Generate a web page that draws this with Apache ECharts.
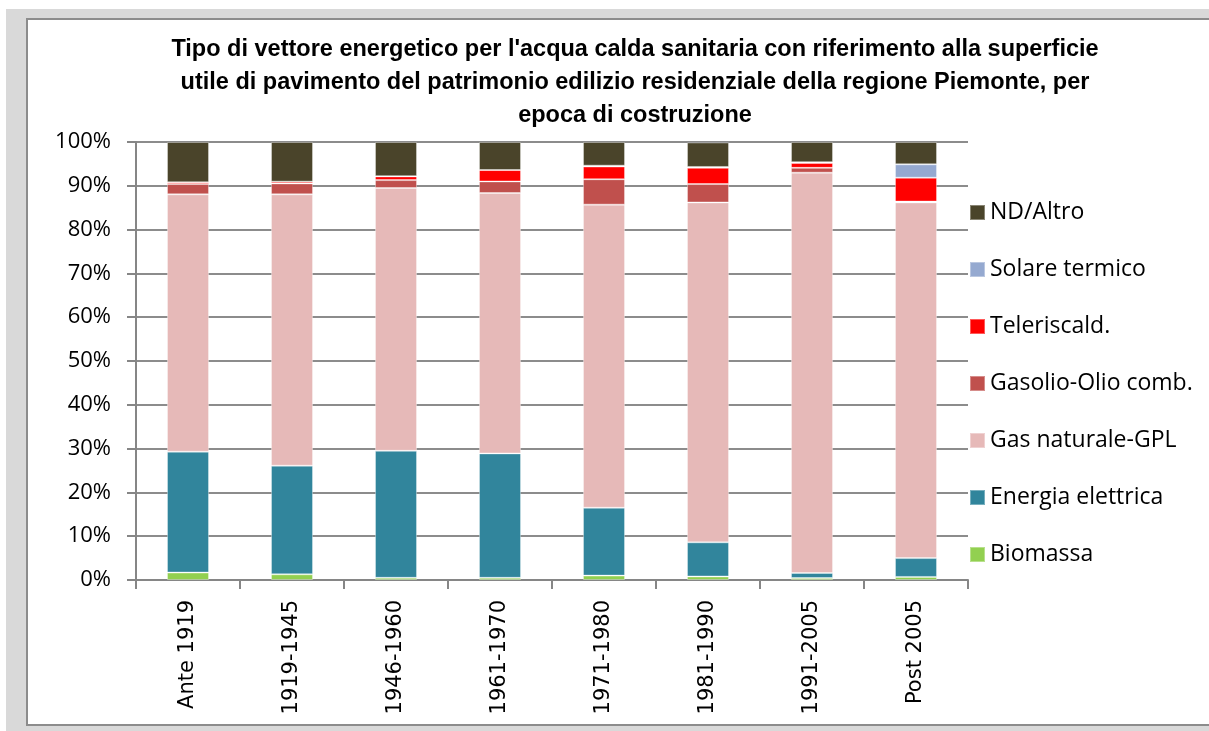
<!DOCTYPE html>
<html><head><meta charset="utf-8">
<script src="https://cdn.jsdelivr.net/npm/echarts@6/dist/echarts.min.js"></script>
<style>html,body{margin:0;padding:0;background:#fff}#c{width:1209px;height:731px}</style>
</head><body><div id="c"></div>
<script>
const categories = ['Ante 1919','1919-1945','1946-1960','1961-1970','1971-1980','1981-1990','1991-2005','Post 2005'];
const biomassa  = [1.7, 1.3, 0.5, 0.5, 1.0, 0.8, 0.45, 0.7];
const elettrica = [27.6, 24.8, 29.0, 28.4, 15.5, 7.8, 1.15, 4.3];
const gas       = [58.75, 61.95, 60.0, 59.45, 69.2, 77.6, 91.4, 81.2];
const gasolio   = [2.35, 2.5, 1.8, 2.65, 5.8, 4.2, 1.1, 0.2];
const teleris   = [0.4, 0.4, 0.85, 2.6, 2.9, 3.7, 1.1, 5.45];
const solare    = [0.0, 0.0, 0.05, 0.0, 0.2, 0.2, 0.2, 3.05];
const ndAltro   = [9.2, 9.05, 7.8, 6.4, 5.4, 5.6, 4.6, 5.1];
const yTicks = [0,10,20,30,40,50,60,70,80,90,100];

const seriesDefs = [
  ['Biomassa', biomassa, '#92d050'],
  ['Energia elettrica', elettrica, '#31859c'],
  ['Gas naturale-GPL', gas, '#e6b9b8'],
  ['Gasolio-Olio comb.', gasolio, '#c0504d'],
  ['Teleriscald.', teleris, '#ff0000'],
  ['Solare termico', solare, '#95a9d0'],
  ['ND/Altro', ndAltro, '#4a442a']
];

const chart = echarts.init(document.getElementById('c'), null, {renderer:'canvas'});
const labelFont = 'Open Sans, Noto Sans, sans-serif';
chart.setOption({
  animation: false,
  backgroundColor: '#fff',
  graphic: [
    {type:'rect', z:-10, silent:true, shape:{x:0,y:9,width:1209,height:722}, style:{fill:'#d9d9d9'}},
    {type:'rect', z:-10, silent:true, shape:{x:0,y:0,width:6,height:731}, style:{fill:'#ffffff'}},
    {type:'rect', z:-9, silent:true, shape:{x:27,y:19,width:1200,height:706}, style:{fill:'#ffffff', stroke:'#8c8c8c', lineWidth:2}}
  ],
  title: {
    text: "Tipo di vettore energetico per l'acqua calda sanitaria con riferimento alla superficie\nutile di pavimento del patrimonio edilizio residenziale della regione Piemonte, per\nepoca di costruzione",
    left: 630, top: 28, textAlign: 'center',
    textStyle: {fontFamily:'Liberation Sans, sans-serif', fontWeight:'bold', fontSize:23.5, lineHeight:33, color:'#000'}
  },
  grid: {left:136, right:241, top:142, bottom:151, containLabel:false},
  legend: {
    orient:'vertical', left:964, top:196, itemWidth:15, itemHeight:15, itemGap:34,
    icon:'rect',
    data: ['ND/Altro','Solare termico','Teleriscald.','Gasolio-Olio comb.','Gas naturale-GPL','Energia elettrica','Biomassa'],
    textStyle:{fontFamily:labelFont, fontSize:23, color:'#000', padding:[0,0,0,0]}
  },
  xAxis: {
    type:'category', data: categories,
    axisLine:{lineStyle:{color:'#868686', width:2}},
    axisTick:{show:true, length:9, lineStyle:{color:'#868686', width:2}, alignWithLabel:false},
    axisLabel:{rotate:90, interval:0, margin:20, fontFamily:'DejaVu Sans, sans-serif', fontSize:21, color:'#000'}
  },
  yAxis: {
    type:'value', min:0, max:100, interval:10,
    axisLine:{show:true, lineStyle:{color:'#868686', width:2}},
    axisTick:{show:true, inside:false, length:9, lineStyle:{color:'#868686', width:2}},
    splitLine:{show:true, lineStyle:{color:'#8c8c8c', width:2}},
    axisLabel:{formatter: v => v + '%', margin:25, fontFamily:labelFont, fontSize:22, color:'#000'}
  },
  series: seriesDefs.map(([name, data, color]) => ({
    name, type:'bar', stack:'tot', data, barWidth:42,
    itemStyle:{color, borderColor:'rgba(255,255,255,0.35)', borderWidth:1}
  }))
});
</script></body></html>
